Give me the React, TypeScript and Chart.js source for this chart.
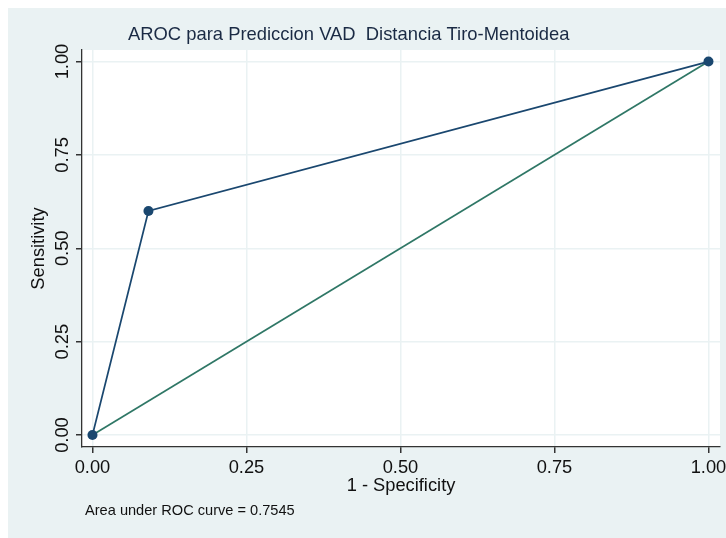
import React, { useEffect, useRef } from "react";
import { Chart, registerables } from "chart.js";

Chart.register(...registerables);

const titleText = "AROC para Prediccion VAD  Distancia Tiro-Mentoidea";
const xTitle = "1 - Specificity";
const yTitle = "Sensitivity";
const noteText = "Area under ROC curve = 0.7545";
const tickValues = [0, 0.25, 0.5, 0.75, 1];
const tickLabels = ["0.00", "0.25", "0.50", "0.75", "1.00"];
const rocFpr = [0, 0.0909, 1];
const rocSens = [0, 0.6, 1];
const refX = [0, 1];
const refY = [0, 1];

const BG = "#EAF2F3";
const NAVY = "#1A476F";
const TEAL = "#2F7766";
const FONT = "'Liberation Sans', Arial, Helvetica, sans-serif";

export default function App() {
  const ref = useRef<HTMLCanvasElement>(null);
  useEffect(() => {
    const canvas = ref.current!;
    const bgPlugin = {
      id: "bgPlugin",
      beforeDraw(chart: any) {
        const { ctx, chartArea } = chart;
        ctx.save();
        ctx.fillStyle = BG;
        ctx.fillRect(0, 0, chart.width, chart.height);
        ctx.fillStyle = "#ffffff";
        ctx.fillRect(chartArea.left, chartArea.top, chartArea.right - chartArea.left, chartArea.bottom - chartArea.top);
        ctx.restore();
      },
      afterDraw(chart: any) {
        const { ctx, chartArea } = chart;
        const xs = chart.scales.x;
        const ys = chart.scales.y;
        ctx.save();
        ctx.fillStyle = "#1a2a44";
        ctx.font = `18.4px ${FONT}`;
        ctx.textAlign = "left";
        ctx.textBaseline = "alphabetic";
        ctx.fillText(titleText, 120, 32);
        ctx.fillStyle = "#111111";
        ctx.font = `18.3px ${FONT}`;
        ctx.textAlign = "center";
        tickValues.forEach((v, i) => {
          ctx.fillText(tickLabels[i], xs.getPixelForValue(v), 465);
        });
        tickValues.forEach((v, i) => {
          ctx.save();
          ctx.translate(60, ys.getPixelForValue(v));
          ctx.rotate(-Math.PI / 2);
          ctx.fillText(tickLabels[i], 0, 0);
          ctx.restore();
        });
        ctx.fillText(xTitle, (chartArea.left + chartArea.right) / 2, 483);
        ctx.save();
        ctx.translate(36, (chartArea.top + chartArea.bottom) / 2);
        ctx.rotate(-Math.PI / 2);
        ctx.fillText(yTitle, 0, 0);
        ctx.restore();
        ctx.textAlign = "left";
        ctx.font = `14.6px ${FONT}`;
        ctx.fillText(noteText, 77, 507);
        ctx.restore();
      },
    };
    const chart = new Chart(canvas, {
      type: "scatter",
      data: {
        datasets: [
          {
            label: "ROC",
            data: rocFpr.map((x, i) => ({ x, y: rocSens[i] })),
            showLine: true,
            borderColor: NAVY,
            backgroundColor: NAVY,
            borderWidth: 1.7,
            pointRadius: 5,
            pointBorderWidth: 0,
            pointBackgroundColor: NAVY,
            order: 1,
          },
          {
            label: "Reference",
            data: refX.map((x, i) => ({ x, y: refY[i] })),
            showLine: true,
            borderColor: TEAL,
            backgroundColor: TEAL,
            borderWidth: 1.7,
            pointRadius: 0,
            order: 2,
          },
        ],
      },
      options: {
        animation: false,
        responsive: false,
        maintainAspectRatio: false,
        layout: { padding: { top: 42, right: 6, left: 0, bottom: 0 } },
        plugins: { legend: { display: false }, tooltip: { enabled: false }, title: { display: false } },
        scales: {
          x: {
            type: "linear",
            min: -0.017,
            max: 1.0187,
            afterBuildTicks: (s: any) => {
              s.ticks = tickValues.map((v) => ({ value: v }));
            },
            afterFit: (s: any) => {
              s.height = 91;
            },
            ticks: { display: false },
            grid: { color: BG, lineWidth: 1.5, tickColor: "#333333", tickLength: 6, drawTicks: true },
            border: { display: true, color: "#333333", width: 1.3 },
          },
          y: {
            type: "linear",
            min: -0.032,
            max: 1.031,
            afterBuildTicks: (s: any) => {
              s.ticks = tickValues.map((v) => ({ value: v }));
            },
            afterFit: (s: any) => {
              s.width = 74;
            },
            ticks: { display: false },
            grid: { color: BG, lineWidth: 1.5, tickColor: "#333333", tickLength: 6, drawTicks: true },
            border: { display: true, color: "#333333", width: 1.3 },
          },
        },
      },
      plugins: [bgPlugin],
    } as any);
    return () => chart.destroy();
  }, []);
  return (
    <div style={{ position: "fixed", left: 8, top: 8, width: 718, height: 530 }}>
      <canvas ref={ref} width={718} height={530} style={{ width: 718, height: 530, display: "block" }} />
    </div>
  );
}
